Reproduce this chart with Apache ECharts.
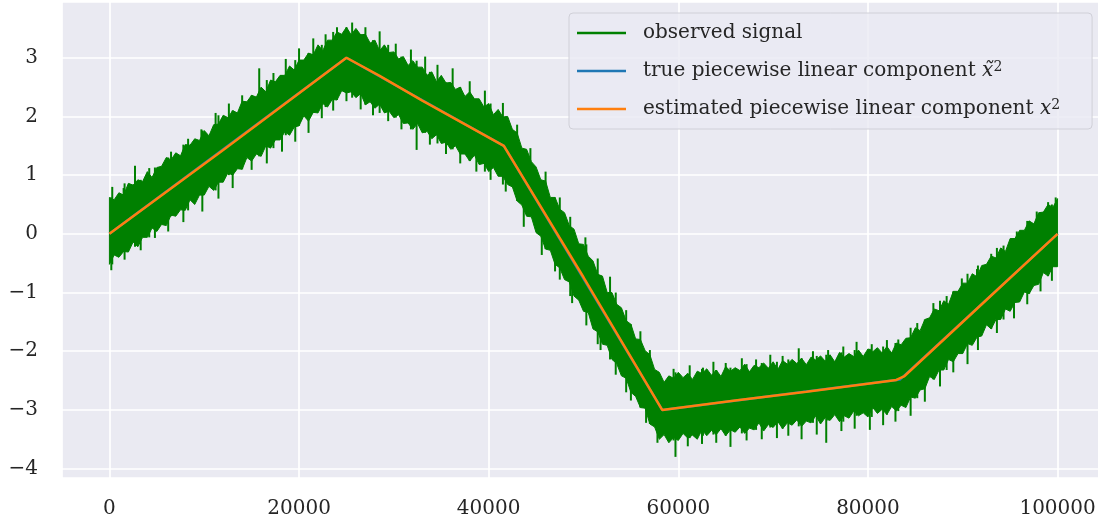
<!DOCTYPE html>
<html>
<head>
<meta charset="utf-8">
<script src="https://cdn.jsdelivr.net/npm/echarts@6/dist/echarts.min.js"></script>
<style>
  html, body { margin: 0; padding: 0; background: #fff; }
  #chart { width: 1098px; height: 520px; }
</style>
</head>
<body>
<div id="chart"></div>
<script>
// observed signal, read as an upper / lower envelope every 1000 samples
const sampleStep = 1000
const obsHigh = [
  0.62, 0.70, 0.86, 0.92, 1.06, 1.13, 1.30, 1.38, 1.52, 1.62,
  1.76, 1.86, 2.02, 2.10, 2.26, 2.36, 2.50, 2.62, 2.70, 2.86,
  2.96, 3.08, 3.22, 3.30, 3.44, 3.52, 3.50, 3.40, 3.30, 3.22,
  3.10, 3.02, 2.95, 2.84, 2.76, 2.70, 2.58, 2.50, 2.42, 2.30,
  2.22, 2.12, 2.00, 1.72, 1.44, 1.14, 0.90, 0.62, 0.36, 0.08,
  -0.18, -0.46, -0.72, -1.00, -1.26, -1.54, -1.80, -2.06, -2.36, -2.42,
  -2.36, -2.38, -2.34, -2.30, -2.32, -2.26, -2.28, -2.22, -2.24, -2.20,
  -2.18, -2.16, -2.14, -2.12, -2.10, -2.08, -2.06, -2.02, -2.04, -1.98,
  -1.96, -1.94, -1.92, -1.86, -1.78, -1.60, -1.46, -1.28, -1.14, -0.98,
  -0.84, -0.68, -0.54, -0.38, -0.24, -0.08, 0.06, 0.22, 0.36, 0.50,
  0.60
]
// upper envelope half way between the samples above (500, 1500, ...)
const obsHighMid = [
  0.58, 0.66, 0.83, 0.89, 0.96, 1.15, 1.26, 1.33, 1.51, 1.59,
  1.67, 1.87, 1.98, 2.06, 2.25, 2.33, 2.42, 2.59, 2.70, 2.79,
  2.96, 3.05, 3.12, 3.30, 3.40, 3.39, 3.39, 3.25, 3.12, 3.09,
  2.98, 2.87, 2.84, 2.70, 2.59, 2.57, 2.46, 2.34, 2.30, 2.16,
  2.03, 1.99, 1.78, 1.46, 1.23, 0.92, 0.62, 0.42, 0.14, -0.17,
  -0.38, -0.69, -1.00, -1.20, -1.48, -1.79, -1.99, -2.31, -2.53, -2.46,
  -2.45, -2.48, -2.38, -2.41, -2.43, -2.34, -2.33, -2.35, -2.28, -2.29,
  -2.31, -2.22, -2.21, -2.23, -2.15, -2.17, -2.18, -2.10, -2.09, -2.09,
  -2.01, -2.03, -2.03, -1.89, -1.77, -1.65, -1.43, -1.31, -1.20, -0.98,
  -0.84, -0.73, -0.52, -0.41, -0.30, -0.08, 0.06, 0.17, 0.37, 0.45
]
const obsLow = [
  -0.52, -0.40, -0.31, -0.22, -0.06, 0.04, 0.14, 0.30, 0.40, 0.50,
  0.66, 0.74, 0.88, 1.00, 1.10, 1.24, 1.32, 1.46, 1.60, 1.68,
  1.84, 1.92, 2.06, 2.16, 2.28, 2.40, 2.32, 2.20, 2.14, 2.06,
  1.98, 1.88, 1.78, 1.72, 1.62, 1.54, 1.44, 1.36, 1.24, 1.18,
  1.06, 0.98, 0.84, 0.56, 0.30, 0.02, -0.26, -0.52, -0.78, -1.06,
  -1.32, -1.62, -1.88, -2.14, -2.42, -2.70, -2.96, -3.24, -3.50, -3.56,
  -3.52, -3.48, -3.50, -3.44, -3.42, -3.44, -3.38, -3.40, -3.34, -3.36,
  -3.30, -3.32, -3.26, -3.28, -3.22, -3.24, -3.18, -3.20, -3.14, -3.10,
  -3.12, -3.06, -3.08, -3.02, -2.96, -2.80, -2.64, -2.48, -2.32, -2.18,
  -2.04, -1.90, -1.74, -1.62, -1.46, -1.32, -1.16, -1.02, -0.86, -0.72,
  -0.56
]
const obsLowMid = [
  -0.36, -0.30, -0.14, -0.06, 0.10, 0.16, 0.32, 0.41, 0.58, 0.66,
  0.81, 0.88, 1.04, 1.11, 1.30, 1.36, 1.50, 1.60, 1.74, 1.82,
  2.01, 2.07, 2.22, 2.29, 2.44, 2.42, 2.39, 2.25, 2.21, 2.09,
  2.03, 1.89, 1.88, 1.75, 1.69, 1.56, 1.50, 1.36, 1.34, 1.20,
  1.13, 0.98, 0.80, 0.49, 0.29, -0.04, -0.28, -0.58, -0.82, -1.13,
  -1.34, -1.67, -1.90, -2.21, -2.46, -2.77, -2.97, -3.29, -3.42, -3.47,
  -3.40, -3.43, -3.34, -3.35, -3.32, -3.34, -3.29, -3.31, -3.22, -3.25,
  -3.20, -3.22, -3.17, -3.19, -3.10, -3.13, -3.08, -3.10, -3.02, -3.05,
  -2.96, -2.99, -2.94, -2.92, -2.78, -2.66, -2.43, -2.32, -2.14, -2.04,
  -1.87, -1.76, -1.55, -1.46, -1.28, -1.17, -0.99, -0.88, -0.66, -0.56
]
// single noise spikes sticking out of the band: [x, tip]
const spikesUp = [
  [300, 0.80], [1500, 0.78], [2700, 1.16], [4200, 1.12], [6500, 1.40], [8300, 1.62],
  [9700, 1.78], [11200, 2.06], [12600, 2.22], [14000, 2.36], [15800, 2.82], [17300, 2.74],
  [18600, 2.98], [20000, 3.16], [21500, 3.33], [22800, 3.40], [24000, 3.52], [25600, 3.60],
  [27000, 3.52], [28500, 3.45], [30200, 3.24], [31800, 3.14], [33300, 3.02], [34600, 2.88],
  [36200, 2.82], [38000, 2.60], [39600, 2.44], [41500, 2.23],
  [43000, 1.86], [44400, 1.46], [46000, 1.06], [47500, 0.62], [48600, 0.29], [50200, -0.06],
  [51500, -0.42], [52800, -0.73], [54500, -1.30], [56000, -1.66], [57000, -1.98],
  [59500, -2.30], [61200, -2.24], [62600, -2.28], [63700, -2.18], [65000, -2.20], [66700, -2.12],
  [68200, -2.14], [69700, -2.06], [71000, -2.08], [72700, -1.95], [74200, -2.00], [75800, -1.98],
  [77400, -1.92], [78800, -1.84], [80400, -1.88], [82000, -1.81], [83200, -1.80],
  [85200, -1.52], [86900, -1.18], [88300, -1.06], [89900, -0.76], [91500, -0.60], [93000, -0.34],
  [94300, -0.20], [95700, 0.04], [97000, 0.22], [97800, 0.38], [99000, 0.54], [99800, 0.62]
]
const spikesDown = [
  [200, -0.62], [1600, -0.44], [3300, -0.28], [4800, -0.07], [6200, 0.04], [7800, 0.20],
  [9800, 0.38], [11500, 0.60], [13000, 0.78], [15000, 1.09], [16600, 1.20], [18200, 1.40],
  [19600, 1.57], [21000, 1.72], [22400, 1.97], [23600, 2.10], [25000, 2.26],
  [26500, 2.12], [27800, 2.02], [29400, 1.92], [30800, 1.78], [32400, 1.43], [33800, 1.52],
  [35500, 1.36], [37000, 1.20], [38700, 1.06], [40200, 0.92],
  [41800, 0.72], [43700, 0.12], [45600, -0.36], [47000, -0.64], [48800, -1.18], [50300, -1.56],
  [51800, -1.98], [53400, -2.40], [55000, -2.84], [56600, -3.22], [57800, -3.56],
  [59700, -3.80], [61000, -3.62], [62500, -3.58], [64000, -3.56], [65500, -3.63], [67200, -3.52],
  [68800, -3.50], [70400, -3.48], [71600, -3.44], [73000, -3.50], [74600, -3.42], [75600, -3.56],
  [77200, -3.36], [78600, -3.32], [80200, -3.34], [81600, -3.26], [82900, -3.20],
  [84500, -3.10], [86000, -2.86], [87600, -2.60], [89000, -2.36], [90500, -2.22], [91600, -1.98],
  [93600, -1.69], [95400, -1.44], [96800, -1.20], [98200, -0.98], [99400, -0.80]
]

// true piecewise linear component
const trueX = [0, 25000, 41600, 58300, 83400, 100000]
const trueY = [0, 3.0, 1.5, -3.0, -2.48, 0]

// estimated piecewise linear component
const estX = [0, 12000, 25000, 28500, 33000, 41600, 50000, 58300, 66000, 73500, 83000, 83800, 92000, 100000]
const estY = [0, 1.43, 3.0, 2.69, 2.27, 1.5, -0.74, -3.0, -2.84, -2.69, -2.49, -2.43, -1.20, 0]

const GREEN = '#008000'
const BLUE = '#1f77b4'
const ORANGE = '#ff7f0e'
const FONT = 'DejaVu Serif'
const TEXT = '#262626'

const legendLabels = {
  'observed signal' : 'observed signal',
  'true piecewise linear component' : 'true piecewise linear component {it|x\u0303}{sup|2}',
  'estimated piecewise linear component' : 'estimated piecewise linear component {it|x}{sup|2}'
}

// zip a sample edge with its half-way edge into one outline
const edgePoints = ( api, full, mid ) => {
  const pts = []
  full.forEach( ( v, i ) => {
    pts.push( api.coord( [i * sampleStep, v] ) )
    if ( i < mid.length ) {
      pts.push( api.coord( [( i + 0.5 ) * sampleStep, mid[i]] ) )
    }
  } )
  return pts
}

const renderSignal = ( params, api ) => {
  const upper = edgePoints( api, obsHigh, obsHighMid )
  const lower = edgePoints( api, obsLow, obsLowMid ).reverse()
  const children = [ {
    type : 'polygon',
    shape : { points : upper.concat( lower ) },
    style : { fill : GREEN, stroke : GREEN, lineWidth : 1 }
  } ]
  const needle = ( x, from, to ) => {
    const a = api.coord( [x, from] )
    const b = api.coord( [x, to] )
    children.push( {
      type : 'line',
      shape : { x1 : a[0], y1 : a[1], x2 : b[0], y2 : b[1] },
      style : { stroke : GREEN, lineWidth : 2 }
    } )
  }
  spikesUp.forEach( ( [x, tip] ) => needle( x, obsLow[Math.round( x / sampleStep )], tip ) )
  spikesDown.forEach( ( [x, tip] ) => needle( x, obsHigh[Math.round( x / sampleStep )], tip ) )
  return { type : 'group', children }
}

const chart = echarts.init( document.getElementById( 'chart' ) )

chart.setOption( {
  animation : false,
  grid : {
    left : 62,
    top : 2,
    width : 1043,
    height : 476,
    show : true,
    backgroundColor : '#eaeaf2',
    borderWidth : 0,
    containLabel : false,
    outerBoundsMode : 'none'
  },
  legend : {
    orient : 'vertical',
    left : 569,
    top : 13,
    padding : [9, 32, 9, 8],
    itemGap : 16,
    itemWidth : 49,
    itemHeight : 2.5,
    icon : 'rect',
    selectedMode : false,
    backgroundColor : 'rgba(234, 234, 242, 0.8)',
    borderColor : '#d0d0d8',
    borderWidth : 1,
    borderRadius : 4,
    data : [
      { name : 'observed signal', itemStyle : { color : GREEN } },
      { name : 'true piecewise linear component', itemStyle : { color : BLUE } },
      { name : 'estimated piecewise linear component', itemStyle : { color : ORANGE } }
    ],
    formatter : name => legendLabels[name],
    textStyle : {
      fontFamily : FONT,
      fontSize : 20,
      lineHeight : 22,
      color : TEXT,
      padding : [0, 0, 0, 12],
      rich : {
        it : { fontFamily : FONT, fontStyle : 'italic', fontSize : 20, lineHeight : 22, color : TEXT },
        sup : { fontFamily : FONT, fontSize : 14, lineHeight : 12, verticalAlign : 'top', color : TEXT }
      }
    }
  },
  xAxis : {
    type : 'value',
    min : -5000,
    max : 105000,
    splitNumber : 5,
    axisLine : { show : false },
    axisTick : { show : false },
    splitLine : { lineStyle : { color : '#ffffff', width : 1.7 } },
    axisLabel : {
      showMinLabel : false,
      showMaxLabel : false,
      margin : 21,
      fontFamily : FONT,
      fontSize : 20,
      color : TEXT,
      formatter : v => String( v )
    }
  },
  yAxis : {
    type : 'value',
    min : -4.16,
    max : 3.95,
    splitNumber : 8,
    axisLine : { show : false },
    axisTick : { show : false },
    splitLine : { lineStyle : { color : '#ffffff', width : 1.7 } },
    axisLabel : {
      showMinLabel : false,
      showMaxLabel : false,
      margin : 24,
      fontFamily : FONT,
      fontSize : 20,
      color : TEXT,
      formatter : v => ( v < 0 ? '\u2212' + Math.abs( v ) : String( v ) )
    }
  },
  series : [
    {
      name : 'observed signal',
      type : 'custom',
      renderItem : renderSignal,
      data : [[0, 0]],
      itemStyle : { color : GREEN },
      z : 2
    },
    {
      name : 'true piecewise linear component',
      type : 'line',
      data : trueX.map( ( x, i ) => [x, trueY[i]] ),
      showSymbol : false,
      lineStyle : { color : BLUE, width : 2.5 },
      itemStyle : { color : BLUE },
      z : 3
    },
    {
      name : 'estimated piecewise linear component',
      type : 'line',
      data : estX.map( ( x, i ) => [x, estY[i]] ),
      showSymbol : false,
      lineStyle : { color : ORANGE, width : 2.5 },
      itemStyle : { color : ORANGE },
      z : 4
    }
  ]
} )

window.addEventListener( 'resize', () => chart.resize() )
</script>
</body>
</html>
